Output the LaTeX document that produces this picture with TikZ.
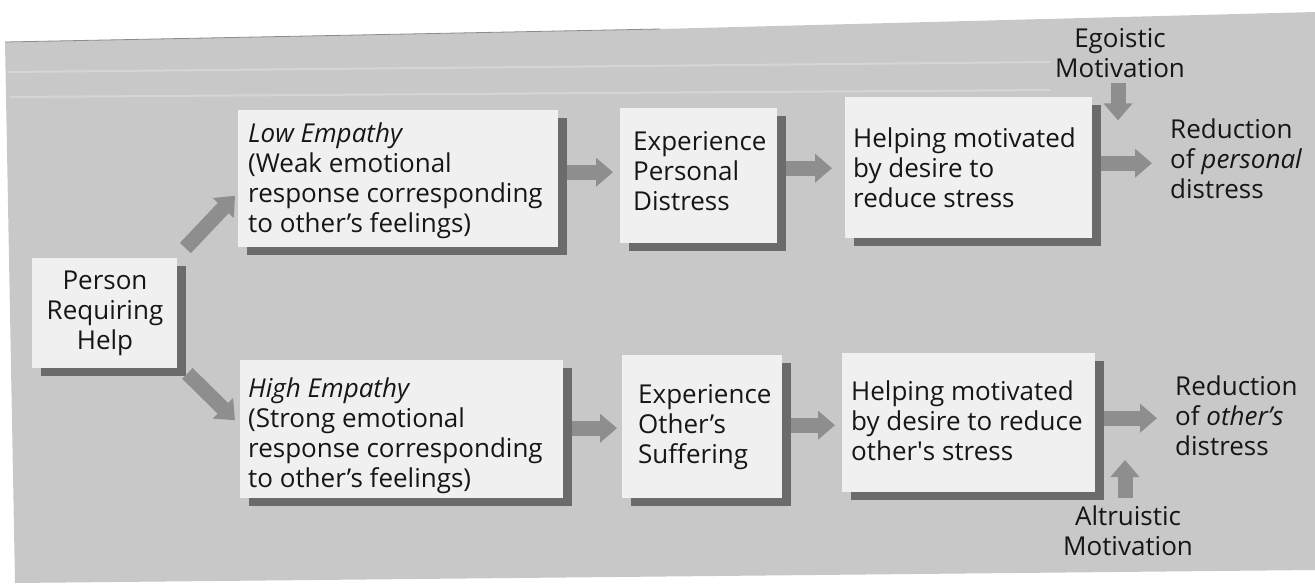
\documentclass[tikz,border=0pt]{standalone}
\usepackage{fontspec}
\setmainfont{Open Sans}
\usetikzlibrary{arrows.meta,calc,shadows}
\definecolor{paper}{HTML}{C8C8C8}
\definecolor{boxfill}{HTML}{F0F0F0}
\definecolor{shade}{HTML}{6B6B6B}
\definecolor{arrowgray}{HTML}{8E8E8E}
\definecolor{ink}{HTML}{161616}

\begin{document}
\begin{tikzpicture}[x=1pt,y=1pt,
  boxstyle/.style={draw=none, fill=boxfill, inner sep=0pt, anchor=north west,
    drop shadow={shadow xshift=9pt, shadow yshift=-8pt, fill=shade, opacity=1}},
  words/.style={inner sep=0pt, text=ink, font=\fontsize{26}{30}\selectfont},
  lefttext/.style={words, align=left, anchor=north west},
  midtext/.style={words, align=center, anchor=north},
  flow/.style={draw=arrowgray, line width=15pt, -{Triangle[length=17pt,width=28pt]}}]

\useasboundingbox (0,0) rectangle (1315,-587);

% grey sheet behind the chart
\fill[paper] (5,-42) -- (660,-29) -- (1315,-12) -- (1315,-570) -- (15,-583) -- cycle;
\draw[black!45, line width=0.8pt] (5,-42) -- (660,-29);
\draw[white, opacity=0.25, line width=2pt] (8,-72) -- (1050,-62);
\draw[white, opacity=0.25, line width=2pt] (10,-97) -- (1050,-90);

% boxes
\node[boxstyle, minimum width=145pt, minimum height=110pt] (person) at (32,-258) {};
\node[boxstyle, minimum width=320pt, minimum height=137pt] (low) at (238,-110) {};
\node[boxstyle, minimum width=157pt, minimum height=135pt] (exp1) at (620,-108) {};
\node[boxstyle, minimum width=247pt, minimum height=141pt] (help1) at (845,-97) {};
\node[boxstyle, minimum width=323pt, minimum height=138pt] (high) at (240,-360) {};
\node[boxstyle, minimum width=160pt, minimum height=143pt] (exp2) at (622,-355) {};
\node[boxstyle, minimum width=253pt, minimum height=139pt] (help2) at (842,-353) {};

% texts
\node[midtext] (persontxt) at (105,-268) {\strut Person\\\strut Requiring\\\strut Help};
\node[lefttext] (lowtxt) at (248,-121) {\strut\textit{Low Empathy}\\\strut(Weak emotional\\\strut response corresponding\\\strut to other’s feelings)};
\node[lefttext] (hightxt) at (248,-376) {\strut\textit{High Empathy}\\\strut(Strong emotional\\\strut response corresponding\\\strut to other’s feelings)};
\node[lefttext] (exp1txt) at (633,-129) {\strut Experience\\\strut Personal\\\strut Distress};
\node[lefttext] (exp2txt) at (638,-382) {\strut Experience\\\strut Other’s\\\strut Suffering};
\node[lefttext] (help1txt) at (853,-126) {\strut Helping motivated\\\strut by desire to\\\strut reduce stress};
\node[lefttext] (help2txt) at (851,-379) {\strut Helping motivated\\\strut by desire to reduce\\\strut other\textquotesingle s stress};
\node[lefttext] (red1) at (1170,-117) {\strut Reduction\\\strut of \textit{personal}\\\strut distress};
\node[lefttext] (red2) at (1175,-374) {\strut Reduction\\\strut of \textit{other’s}\\\strut distress};
\node[midtext] (ego) at (1120,-26) {\strut Egoistic\\\strut Motivation};
\node[midtext] (alt) at (1128,-504) {\strut Altruistic\\\strut Motivation};

% connectors
\draw[flow] ($(person.north east)+(8,10)$) -- ($(low.west)+(-3,-17)$);
\draw[flow] ($(person.south east)+(10,-5)$) -- ($(high.west)+(-5,9)$);
\draw[flow] ($(low.east)+(9,6.5)$) -- ($(exp1.west |- low.east)+(-7,6.5)$);
\draw[flow] ($(exp1.east)+(9,7.5)$) -- ($(help1.west |- exp1.east)+(-13,7.5)$);
\draw[flow] ($(help1.east)+(9,4.5)$) -- ($(red1.west |- help1.east)+(-18,4.5)$);
\draw[flow] ($(high.east)+(9,1)$) -- ($(exp2.west |- high.east)+(-5,1)$);
\draw[flow] ($(exp2.east)+(9,1.5)$) -- ($(help2.west |- exp2.east)+(-7,1.5)$);
\draw[flow] ($(help2.east)+(9,4.5)$) -- ($(red2.west |- help2.east)+(-18,4.5)$);
\draw[flow] ($(ego.south)+(-2,3)$) -- ($(ego.south)+(-2,-34)$);
\draw[flow] ($(alt.north)+(-3,6)$) -- ($(alt.north)+(-3,44)$);
\end{tikzpicture}
\end{document}
